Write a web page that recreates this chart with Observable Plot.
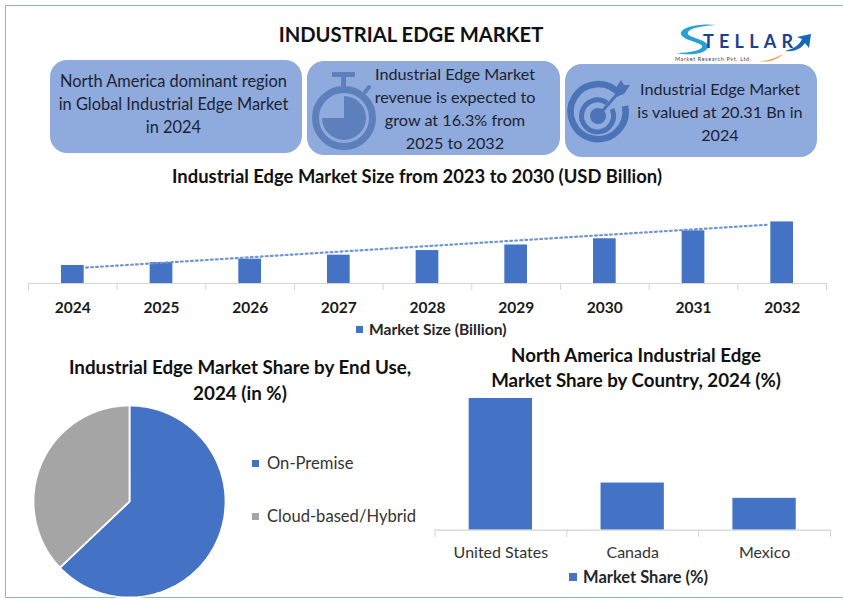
<!DOCTYPE html>
<html>
<head>
<meta charset="utf-8">
<script src="https://cdn.jsdelivr.net/npm/d3@7"></script>
<script src="https://cdn.jsdelivr.net/npm/@observablehq/plot@0.6"></script>
<style>
  html, body { margin: 0; padding: 0; background: #fff; }
  body { width: 843px; height: 600px; overflow: hidden; position: relative; font-family: Lato, "Noto Sans", sans-serif; color: #1a1a1a; }
  .abs { position: absolute; }
  .frame { left: 5px; top: 5px; width: 838px; height: 593px; border: 1px solid #8fb0e6; border-right: none; box-sizing: border-box; }
  .title { text-align: center; font-weight: 700; white-space: nowrap; color: #111; }
  .card { background: #8faadc; border-radius: 17px; display: flex; align-items: center; justify-content: center; text-align: center; font-size: 16.4px; line-height: 23px; color: #1c2433; box-sizing: border-box; }
  .cardtext { display: flex; align-items: center; justify-content: center; text-align: center; font-size: 16.2px; line-height: 23px; color: #1c2433; }
  .legend { display: flex; align-items: center; white-space: nowrap; }
  .sq { width: 7px; height: 7px; margin-right: 6px; display: inline-block; }
  svg.plot { position: absolute; background: transparent; overflow: visible; }
</style>
</head>
<body>
<div class="abs frame"></div>

<div class="abs title" style="left:211px;width:400px;top:20px;font-size:20.2px;line-height:28px;">INDUSTRIAL EDGE MARKET</div>

<svg class="abs" style="left:670px;top:15px;" width="150" height="52" viewBox="0 0 150 52">
  <path d="M46 10 C30 8 10 12 11 19 C12 25 30 27 32 31 C33 35 20 38 6 38 C20 41 38 39 38 31 C38 25 20 23 18 19 C16 14 30 11 46 10Z" fill="#2a9fd8"/>
  <text x="33" y="33" font-family="Lato" font-size="18" font-weight="700" textLength="90" lengthAdjust="spacing" fill="#1d3f8f">TELLAR</text>
  <path d="M115 36 C124 34 130 29 132 24 L127 22 L141 19 L139 33 L135 28 C131 34 124 37 115 36Z" fill="#1668b8"/>
  <text x="5" y="46" font-family="Lato" font-size="5.5" textLength="76" lengthAdjust="spacing" fill="#444">Market Research Pvt. Ltd.</text>
  <path d="M90 46 C98 46 106 43 113 39 C107 45 98 48 90 46Z" fill="#e9a04a"/>
</svg>

<div class="abs card" style="left:50px;top:60px;width:252px;height:93px;">
  <div style="margin-top:-6px;margin-left:-5px;">North America dominant region<br>in Global Industrial Edge Market<br>in 2024</div>
</div>

<div class="abs card" style="left:307px;top:61px;width:253px;height:94px;"></div>
<svg class="abs" style="left:305px;top:60px;" width="80" height="100" viewBox="305 60 80 100">
  <g fill="#5d80bd" stroke="none">
    <rect x="332" y="72" width="23" height="5" rx="1"/>
    <rect x="341" y="77" width="5" height="9"/>
    <path d="M344 96 A22 22 0 1 1 322 118 L344 118 Z"/>
  </g>
  <circle cx="344" cy="118" r="28.5" fill="none" stroke="#5d80bd" stroke-width="7"/>
  <path d="M365 92 L369 87" stroke="#5d80bd" stroke-width="4" stroke-linecap="round"/>
</svg>
<div class="abs cardtext" style="left:367px;top:61px;width:176px;height:94px;">
  <div>Industrial Edge Market<br>revenue is expected to<br>grow at 16.3% from<br>2025 to 2032</div>
</div>

<div class="abs card" style="left:565px;top:64px;width:252px;height:93px;"></div>
<svg class="abs" style="left:560px;top:65px;" width="80" height="100" viewBox="560 65 80 100">
  <g fill="none" stroke="#4b74b8">
    <path d="M620 95 A27.5 27.5 0 1 0 625 106" stroke-width="6.5"/>
    <path d="M607 103 A16 16 0 1 0 612 109" stroke-width="5"/>
  </g>
  <circle cx="598" cy="116" r="8" fill="#4b74b8"/>
  <path d="M598 116 L619 92" stroke="#4b74b8" stroke-width="3"/>
  <path d="M615 89 L621 80 L624 85 L630 85 L624 94 L618 96 Z" fill="#4b74b8"/>
</svg>
<div class="abs cardtext" style="left:634px;top:65px;width:172px;height:93px;">
  <div>Industrial Edge Market<br>is valued at 20.31 Bn in<br>2024</div>
</div>

<div class="abs title" style="left:117px;width:600px;top:164px;font-size:18.4px;line-height:24px;">Industrial Edge Market Size from 2023 to 2030 (USD Billion)</div>
<div id="c1"></div>
<div class="abs legend" style="left:356px;top:320px;font-size:15.6px;font-weight:700;line-height:18px;color:#262626;"><span class="sq" style="background:#4472c4;"></span>Market Size (Billion)</div>

<div class="abs title" style="left:40px;width:400px;top:354px;font-size:18.8px;line-height:25.5px;white-space:normal;">Industrial Edge Market Share by End Use,<br>2024 (in %)</div>
<div id="c2"></div>
<div class="abs legend" style="left:252px;top:453px;font-size:16.6px;line-height:20px;color:#333;"><span class="sq" style="background:#4472c4;margin-right:8px;"></span>On-Premise</div>
<div class="abs legend" style="left:252px;top:506px;font-size:16.6px;line-height:20px;color:#333;"><span class="sq" style="background:#a5a5a5;margin-right:8px;"></span>Cloud-based/Hybrid</div>

<div class="abs title" style="left:436px;width:400px;top:343px;font-size:18.7px;line-height:25px;white-space:normal;">North America Industrial Edge<br>Market Share by Country, 2024 (%)</div>
<div id="c3"></div>
<div class="abs legend" style="left:569px;top:567px;font-size:16.5px;font-weight:700;line-height:20px;color:#262626;"><span class="sq" style="background:#4472c4;width:8px;height:8px;"></span>Market Share (%)</div>

<script>
const years = [2024, 2025, 2026, 2027, 2028, 2029, 2030, 2031, 2032];
const marketSize = [20.31, 23.6, 27.5, 32.0, 37.2, 43.5, 50.5, 59.5, 69.5];
const trendYears = [2024.15, 2031.86];
const trendValues = [18.0, 66.5];
const tickEdges = [2023.5, 2024.5, 2025.5, 2026.5, 2027.5, 2028.5, 2029.5, 2030.5, 2031.5, 2032.5];

const endUse = ["On-Premise", "Cloud-based/Hybrid"];
const endUseShare = [62.9, 37.1];
const endUseColors = ["#4472c4", "#a5a5a5"];

const countries = ["United States", "Canada", "Mexico"];
const countryShare = [62, 22.2, 15];

const BLUE = "#4472c4";
const AXIS = "#d4d4d4";

function place(id, svg, left, top) {
  svg.classList.add("plot");
  svg.style.left = left + "px";
  svg.style.top = top + "px";
  svg.style.position = "absolute";
  document.getElementById(id).appendChild(svg);
}

// Market size bars
const sizeRows = years.map((year, i) => ({year, value: marketSize[i]}));
const trendRows = trendYears.map((year, i) => ({year, value: trendValues[i]}));
place("c1", Plot.plot({
  width: 843, height: 115,
  marginLeft: 28, marginRight: 17, marginTop: 11, marginBottom: 42,
  style: {background: "transparent", fontFamily: "Lato"},
  x: {domain: [2023.5, 2032.5], label: null},
  y: {domain: [0, 70], axis: null},
  marks: [
    Plot.rectY(sizeRows, {x1: d => d.year - 0.128, x2: d => d.year + 0.128, y1: 0, y2: "value", fill: BLUE}),
    Plot.line(trendRows, {x: "year", y: "value", stroke: "#6f96d4", strokeWidth: 2.2, strokeDasharray: "1.8 3.2"}),
    Plot.ruleY([0], {stroke: AXIS, strokeWidth: 1.2}),
    Plot.axisX({ticks: tickEdges, tickSize: 7, tickFormat: () => "", stroke: AXIS, label: null}),
    Plot.axisX({ticks: years, tickSize: 0, tickPadding: 18, tickFormat: d => String(d), fontSize: 15.5, fontWeight: 700, fill: "#1a1a1a", label: null})
  ]
}), 0, 210);

// End-use pie, slices built from the share values and drawn through x/y scales
const arcs = d3.pie().sort(null)(endUseShare);
const pieRows = arcs.flatMap((a, i) => {
  const n = Math.max(2, Math.ceil((a.endAngle - a.startAngle) * 40));
  const rim = d3.range(n + 1).map(k => {
    const t = a.startAngle + (a.endAngle - a.startAngle) * k / n;
    return {name: endUse[i], px: Math.sin(t), py: Math.cos(t)};
  });
  return [{name: endUse[i], px: 0, py: 0}, ...rim];
});
place("c2", Plot.plot({
  width: 200, height: 200,
  margin: 4,
  style: {background: "transparent"},
  x: {domain: [-1, 1], axis: null},
  y: {domain: [-1, 1], axis: null},
  color: {domain: endUse, range: endUseColors},
  marks: [
    Plot.line(pieRows, {x: "px", y: "py", z: "name", fill: "name", stroke: "#fff", strokeWidth: 1.8, curve: "linear-closed"})
  ]
}), 28.5, 401);

// Country bars
const countryRows = countries.map((country, i) => ({country, share: countryShare[i]}));
place("c3", Plot.plot({
  width: 443, height: 172,
  marginLeft: 34.4, marginRight: 13, marginTop: 8, marginBottom: 32.3,
  style: {background: "transparent", fontFamily: "Lato"},
  x: {domain: countries, paddingInner: 0.52, paddingOuter: 0.26, round: false, label: null},
  y: {domain: [0, 62], axis: null},
  marks: [
    Plot.barY(countryRows, {x: "country", y: "share", fill: BLUE}),
    Plot.ruleY([0], {stroke: AXIS, strokeWidth: 1.2}),
    Plot.ruleX(countries, {x: d => d, y1: 0, y2: -3.4, dx: -65.9, stroke: AXIS}),
    Plot.ruleX(countries.slice(-1), {x: d => d, y1: 0, y2: -3.4, dx: 65.9, stroke: AXIS}),
    Plot.axisX({tickSize: 0, tickPadding: 16, fontSize: 16, fill: "#333", label: null})
  ]
}), 400, 390);
</script>
</body>
</html>
